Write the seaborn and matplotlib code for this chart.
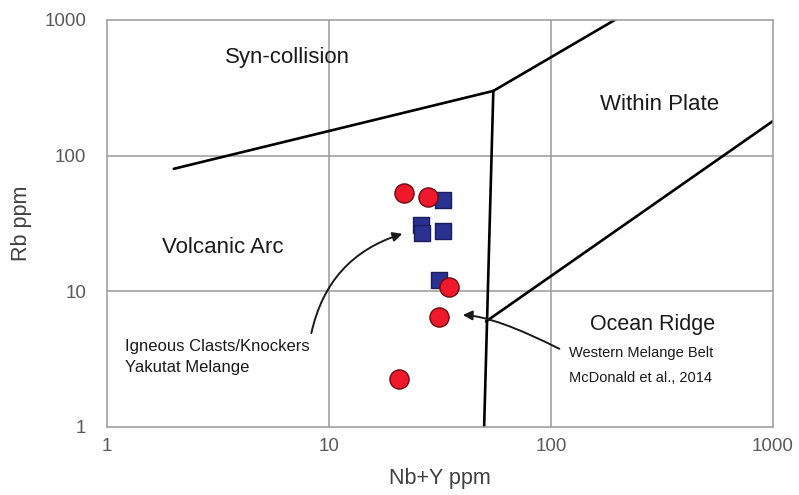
import matplotlib
matplotlib.use("Agg")
import matplotlib.pyplot as plt
import seaborn as sns
import pandas as pd

# Pearce et al. (1984) Rb vs Y+Nb discrimination boundaries
syncol_vag_x = [2, 55]
syncol_vag_y = [80, 300]
syncol_wpg_x = [55, 400]
syncol_wpg_y = [300, 2000]
vag_org_x = [50, 55]
vag_org_y = [1, 300]
wpg_org_x = [51, 1000]
wpg_org_y = [6, 180]

# Yakutat Melange igneous clasts / knockers (squares)
yak_nby = [32.6, 26.0, 26.2, 32.6, 31.3]
yak_rb = [47, 30.8, 26.9, 27.8, 12.1]

# Western Melange Belt, McDonald et al., 2014 (circles)
wmb_nby = [21.8, 27.9, 34.7, 31.3, 20.7]
wmb_rb = [53, 49.5, 10.8, 6.5, 2.26]

tick_vals = [1, 10, 100, 1000]
tick_labels = ["1", "10", "100", "1000"]

sns.set_theme(style="white")
plt.rcParams["font.family"] = ["Liberation Sans", "DejaVu Sans"]

fig = plt.figure(figsize=(7.99, 4.95), dpi=100)
ax = fig.add_axes([0.1339, 0.1374, 0.8335, 0.8222])

grid_c = "#9a9a9a"
for v in tick_vals[1:-1]:
    ax.axvline(v, color=grid_c, lw=1.1, zorder=0)
    ax.axhline(v, color=grid_c, lw=1.1, zorder=0)

for xs, ys in [(syncol_vag_x, syncol_vag_y), (syncol_wpg_x, syncol_wpg_y),
               (vag_org_x, vag_org_y), (wpg_org_x, wpg_org_y)]:
    sns.lineplot(x=xs, y=ys, ax=ax, color="black", lw=1.9, sort=False,
                 estimator=None, zorder=2)

yak = pd.DataFrame({"nby": yak_nby, "rb": yak_rb})
wmb = pd.DataFrame({"nby": wmb_nby, "rb": wmb_rb})
sns.scatterplot(data=yak, x="nby", y="rb", ax=ax, marker="s", s=135,
                color="#2b3190", edgecolor="#1b1d5c", linewidth=1.0, zorder=3)
sns.scatterplot(data=wmb, x="nby", y="rb", ax=ax, marker="o", s=190,
                color="#f0192b", edgecolor="#6e0a10", linewidth=1.0, zorder=4)

ax.set_xscale("log")
ax.set_yscale("log")
ax.set_xlim(1, 1000)
ax.set_ylim(1, 1000)
ax.set_xticks(tick_vals)
ax.set_xticklabels(tick_labels)
ax.set_yticks(tick_vals)
ax.set_yticklabels(tick_labels)
ax.minorticks_off()
ax.tick_params(axis="x", length=0, pad=8, labelsize=13.5, labelcolor="#5a5a5a")
ax.tick_params(axis="y", length=0, pad=15, labelsize=13.5, labelcolor="#5a5a5a")
for sp in ax.spines.values():
    sp.set_color(grid_c)
    sp.set_linewidth(1.1)

ax.set_xlabel("Nb+Y ppm", fontsize=15.5, color="#404040", labelpad=9)
ax.set_ylabel("Rb ppm", fontsize=15.5, color="#404040", labelpad=9)

field_kw = dict(fontsize=16, color="#1a1a1a", ha="center", va="center")
ax.text(6.47, 533, "Syn-collision", **field_kw)
ax.text(310, 240, "Within Plate", **field_kw)
ax.text(3.33, 21.2, "Volcanic Arc", **field_kw)
ax.text(288, 5.65, "Ocean Ridge", fontsize=15.5, color="#1a1a1a",
        ha="center", va="center")

small_kw = dict(color="#1a1a1a", ha="left", va="center", transform=ax.transAxes)
ax.text(0.027, 0.197, "Igneous Clasts/Knockers", fontsize=12, **small_kw)
ax.text(0.027, 0.145, "Yakutat Melange", fontsize=12, **small_kw)
ax.text(0.694, 0.182, "Western Melange Belt", fontsize=10.5, **small_kw)
ax.text(0.694, 0.120, "McDonald et al., 2014", fontsize=10.5, **small_kw)

arrow_kw = dict(arrowstyle="-|>", color="#1a1a1a", lw=1.4, mutation_scale=14)
ax.annotate("", xy=(22.0, 26.9), xycoords="data",
            xytext=(0.306, 0.224), textcoords="axes fraction",
            arrowprops=dict(connectionstyle="arc3,rad=-0.3", **arrow_kw))
ax.annotate("", xy=(38.9, 6.7), xycoords="data",
            xytext=(0.683, 0.189), textcoords="axes fraction",
            arrowprops=dict(connectionstyle="angle3,angleA=153,angleB=0", **arrow_kw))

fig.savefig("out.png", dpi=100, facecolor="white")
